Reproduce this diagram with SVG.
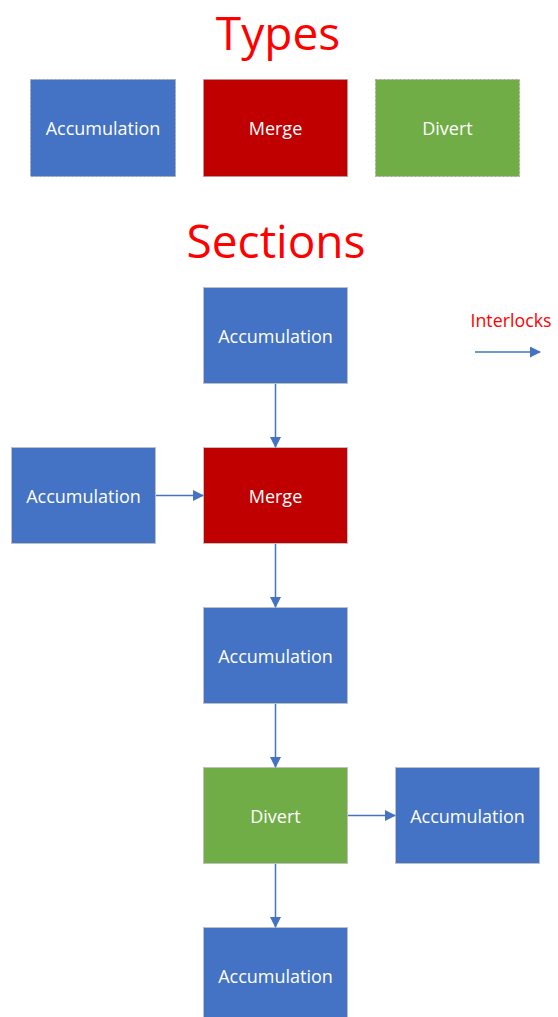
<svg xmlns="http://www.w3.org/2000/svg" width="558" height="1017" viewBox="0 0 558 1017">
<defs>
<style>
.title{font-family:"Open Sans","Noto Sans",sans-serif;font-size:46px;fill:#FF0000;text-anchor:middle}
.lbl{font-family:"Open Sans","Noto Sans",sans-serif;font-size:18px;fill:#FFFFFF;text-anchor:middle;dominant-baseline:central}
.acc{fill:#4472C4}
.mrg{fill:#C00000}
.div{fill:#70AD47}
.type{stroke:#A5A5A5;stroke-width:1;stroke-dasharray:2 2}
.sec{stroke:#BFBFBF;stroke-width:1}
.con{stroke:#4472C4;stroke-width:1.5;fill:none;marker-end:url(#ah)}
</style>
<marker id="ah" markerWidth="11" markerHeight="11" refX="10" refY="5.5" orient="auto" markerUnits="userSpaceOnUse">
<path d="M0,0 L11,5.5 L0,11 Z" fill="#4472C4"/>
</marker>
</defs>
<rect width="558" height="1017" fill="#FFFFFF"/>
<text class="title" x="278" y="50">Types</text>
<text class="title" x="276" y="258">Sections</text>
<g id="type-accumulation"><rect class="acc type" x="30.5" y="79.5" width="145" height="97"/><text class="lbl" x="103" y="128">Accumulation</text></g>
<g id="type-merge"><rect class="mrg type" x="203.5" y="79.5" width="144" height="97"/><text class="lbl" x="275.5" y="128">Merge</text></g>
<g id="type-divert"><rect class="div type" x="375.5" y="79.5" width="144" height="97"/><text class="lbl" x="447.5" y="128">Divert</text></g>
<g id="legend"><text x="511" y="327" font-family="'Open Sans','Noto Sans',sans-serif" font-size="17.8px" fill="#FF0000" text-anchor="middle">Interlocks</text></g>
<g id="s1"><rect class="acc sec" x="203.5" y="287.5" width="144" height="96"/><text class="lbl" x="275.5" y="336">Accumulation</text></g>
<g id="s2"><rect class="mrg sec" x="203.5" y="447.5" width="144" height="96"/><text class="lbl" x="275.5" y="496">Merge</text></g>
<g id="s3"><rect class="acc sec" x="11.5" y="447.5" width="144" height="96"/><text class="lbl" x="83.5" y="496">Accumulation</text></g>
<g id="s4"><rect class="acc sec" x="203.5" y="607.5" width="144" height="96"/><text class="lbl" x="275.5" y="656">Accumulation</text></g>
<g id="s5"><rect class="div sec" x="203.5" y="767.5" width="144" height="96"/><text class="lbl" x="275.5" y="816">Divert</text></g>
<g id="s6"><rect class="acc sec" x="395.5" y="767.5" width="144" height="96"/><text class="lbl" x="467.5" y="816">Accumulation</text></g>
<g id="s7"><rect class="acc sec" x="203.5" y="927.5" width="144" height="96"/><text class="lbl" x="275.5" y="976">Accumulation</text></g>
<g id="connectors">
<line class="con" x1="475" y1="352" x2="540" y2="352"/>
<line class="con" x1="275.5" y1="384" x2="275.5" y2="447"/>
<line class="con" x1="156" y1="495.5" x2="203" y2="495.5"/>
<line class="con" x1="275.5" y1="544" x2="275.5" y2="607"/>
<line class="con" x1="275.5" y1="704" x2="275.5" y2="767"/>
<line class="con" x1="348" y1="815.5" x2="395" y2="815.5"/>
<line class="con" x1="275.5" y1="864" x2="275.5" y2="927"/>
</g>
</svg>
